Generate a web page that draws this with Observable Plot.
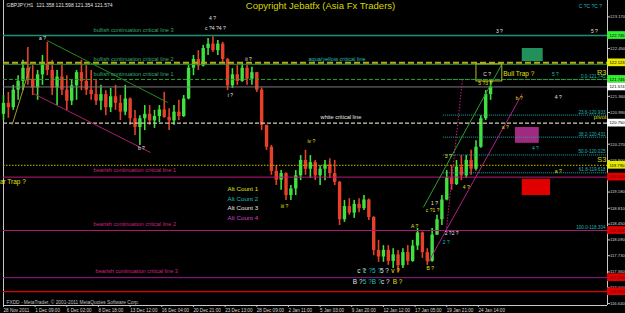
<!DOCTYPE html>
<html><head><meta charset="utf-8">
<script src="https://cdn.jsdelivr.net/npm/d3@7"></script>
<script src="https://cdn.jsdelivr.net/npm/@observablehq/plot@0.6"></script>
<style>html,body{margin:0;padding:0;background:#000;} svg{display:block}</style>
</head><body><div id="chart"></div>
<script>
// ---------- DATA ----------
const candleHigh = [121.38,121.45,121.61,121.83,122.18,122.47,122.06,121.95,122.29,122.59,
 122.18,121.95,122.06,121.83,121.72,121.95,122.18,122.06,121.95,121.72,
 121.61,121.49,121.54,121.61,121.38,121.61,121.32,121.04,120.92,121.15,
 121.15,121.04,121.15,121.45,121.08,121.15,121.27,121.38,122.06,122.29,
 122.40,122.52,122.68,122.72,122.63,122.59,122.22,121.99,122.06,122.13,
 122.06,122.02,121.90,121.55,120.70,120.24,119.78,119.67,119.62,119.33,
 119.67,120.01,120.13,120.01,119.90,119.78,119.90,119.94,119.90,119.42,
 118.99,119.03,118.99,119.03,119.10,119.02,118.62,118.08,117.96,117.96,
 117.89,117.85,117.89,117.96,118.08,118.35,118.27,117.89,118.35,118.65,
 119.10,119.67,119.78,119.90,120.01,120.01,120.13,120.35,120.92,121.49,
 121.72];
const candleLow = [120.81,120.86,121.04,121.27,121.49,121.61,121.38,121.27,121.61,121.83,
 121.38,121.15,121.38,121.04,121.15,121.27,121.49,121.38,121.27,121.15,
 121.04,120.92,120.99,121.04,120.81,120.92,120.70,120.47,120.24,120.58,
 120.70,120.63,120.76,120.86,120.58,120.70,120.81,120.88,121.28,121.83,
 121.95,122.03,122.29,122.36,122.29,122.13,121.49,121.54,121.61,121.68,
 121.61,121.61,121.45,120.58,120.13,119.56,119.33,119.22,118.99,118.99,
 119.10,119.44,119.56,119.49,119.44,119.33,119.44,119.49,119.33,118.42,
 118.49,118.65,118.58,118.71,118.76,118.53,117.73,117.58,117.58,117.51,
 117.44,117.35,117.44,117.51,117.58,117.85,117.67,117.51,117.58,118.19,
 118.42,118.98,119.22,119.33,119.44,119.49,119.56,119.66,120.18,120.81,
 121.27];
const candleOpen = [120.95,121.20,121.10,121.50,121.70,122.00,121.75,121.55,121.85,122.10,
 121.95,121.55,121.80,121.50,121.25,121.60,121.90,121.70,121.50,121.40,
 121.25,121.40,121.10,121.35,121.20,121.00,121.30,120.85,120.65,120.85,
 120.95,120.80,120.90,121.05,120.88,120.80,121.00,120.90,121.30,122.00,
 122.20,122.05,122.45,122.55,122.40,122.55,122.20,121.60,121.85,121.70,
 122.00,121.75,121.90,121.50,120.70,120.20,119.65,119.45,119.60,119.10,
 119.25,119.55,119.90,119.70,119.85,119.55,119.70,119.80,119.60,119.40,
 118.55,118.85,118.70,118.90,118.80,119.00,118.60,117.85,117.70,117.85,
 117.60,117.75,117.50,117.80,117.60,117.95,118.25,117.80,117.60,118.20,
 118.55,119.00,119.50,119.35,119.75,119.55,119.90,119.70,120.20,120.85,
 121.40];
const candleClose = [121.20,121.10,121.50,121.70,122.00,121.75,121.55,121.85,122.10,121.95,
 121.55,121.80,121.50,121.25,121.60,121.90,121.70,121.50,121.40,121.25,
 121.40,121.10,121.35,121.20,121.00,121.30,120.85,120.65,120.85,120.95,
 120.80,120.90,121.05,120.88,120.80,121.00,120.90,121.30,122.00,122.20,
 122.05,122.45,122.55,122.40,122.55,122.20,121.60,121.85,121.70,122.00,
 121.75,121.90,121.50,120.70,120.20,119.65,119.45,119.60,119.10,119.25,
 119.55,119.90,119.70,119.85,119.55,119.70,119.80,119.60,119.40,118.55,
 118.85,118.70,118.90,118.80,119.00,118.60,117.85,117.70,117.85,117.60,
 117.75,117.50,117.80,117.60,117.95,118.25,117.80,117.60,118.20,118.55,
 119.00,119.50,119.35,119.75,119.55,119.90,119.70,120.20,120.85,121.40,
 121.57];
const candleHours = 10; // H1 bars grouped into each drawn candle

const xTickBar = [0,65,130,195,260,325,390,455,520,585,650,715,780,845,910,975];
const xTickLabel = ["28 Nov 2011","1 Dec 09:00","6 Dec 02:00","8 Dec 18:00","13 Dec 12:00","16 Dec 04:00",
 "20 Dec 21:00","23 Dec 13:00","28 Dec 09:00","2 Jan 11:00","5 Jan 03:00","9 Jan 20:00",
 "12 Jan 12:00","17 Jan 05:00","19 Jan 21:00","24 Jan 14:00"];
const yTickValue = [123.170,122.450,121.360,120.990,120.270,119.900,119.180,118.810,118.450,118.090,117.730,117.360,117.000,116.640];

const levelName  = ["bull3","bull2","aquaYellow","bull1","bid","white","s3","bear1","bear2","bear3","red"];
const levelPrice = [122.745,122.090,122.123,121.745,121.574,120.750,119.790,119.520,118.304,117.230,116.910];

const fibRatio = ["0.0","23.6","38.2","50.0","61.8","100.0"];
const fibPrice = [121.745,120.933,120.431,120.025,119.618,118.304];
const fibStartBar = 903;

const zoneName = ["green","magenta","red"];
const zoneBar1 = [1065,1051,1065];
const zoneBar2 = [1108,1100,1123];
const zoneTop = [122.45,120.65,119.47];
const zoneBottom = [122.15,120.29,119.10];

const trapBar = [971,1024];
const trapPrice = [121.70,122.09];

const trendName = ["greenDown","magentaDown","oliveUp","greenUp","magentaUp","magentaDotted"];
const trendBar1 = [90,62,18,862,872,909];
const trendPrice1 = [122.63,121.42,120.72,118.83,117.58,118.30];
const trendBar2 = [337,302,55,1024,1065,942];
const trendPrice2 = [121.22,120.08,122.04,122.11,121.42,121.72];

const lineLabelText = ["bullish continuation critical line 3","bullish continuation critical line 2",
 "bullish continuation critical line 1","aqua/yellow critical line","white critical line",
 "bearish continuation critical line 1","bearish continuation critical line 2","bearish continuation critical line 3"];
const lineLabelKind = ["bull","bull","bull","aqua","white","bear","bear","bear"];
const lineLabelBar = [185,185,185,626,651,185,185,189];
const lineLabelPrice = [122.86,122.20,121.86,122.20,120.88,119.67,118.44,117.37];

const waveText = ["4 ?","c ?4 ?4 ?","a ?","ii ?","i ?","b ?","iv ?","iii ?","C ?","5 ?","4 ?","b ?","3 ?","5 ?",
 "C ?C ?C ?","a ?","4 ?","a ?","4 ?","3 ?","5 ?3 ?","1 ?","c ?1 ?","A ?","2 ?2 ?","2 ?","B ?"];
const waveCount = [3,3,3,3,3,3,1,1,3,2,3,1,3,3,2,1,2,1,1,1,1,3,1,1,3,2,1];
const waveBar = [429,435,80,503,466,283,632,577,993,1133,1139,1059,1018,1213,1205,1030,1092,1139,950,913,989,885,881,844,920,909,876];
const wavePrice = [123.13,122.91,122.68,122.20,121.38,120.17,120.33,118.85,121.86,121.86,121.33,121.31,122.84,122.84,
 123.41,120.65,120.17,119.65,119.28,119.99,121.65,118.92,118.76,118.40,118.24,118.03,117.44];

const lowWaveText = ["c ?","c ?5 ?","5 ?","v ?","B ?","5 ?","B ?","c ?","B ?"];
const lowWaveCount = [3,2,3,1,3,2,2,3,1];
const lowWaveBar = [735,757,782,805,727,747,766,784,809];
const lowWavePrice = [117.39,117.39,117.39,117.39,117.14,117.14,117.14,117.14,117.14];

const altCountText = ["Alt Count 1","Alt Count 2","Alt Count 3","Alt Count 4"];
const altCountBar = 460;
const altCountPrice = [119.26,119.03,118.81,118.58];

const bullTrapText = "Bull Trap ?", bullTrapBar = 1026, bullTrapPrice = 121.86;
const bearTrapText = "Bear Trap ?", bearTrapBar = 46, bearTrapPrice = 119.42;

const pivotText = ["R3","pivot","S3"];
const pivotPrice = [121.90,120.88,119.92];

const headerText = "GBPJPY,H1  121.358 121.598 121.354 121.574";
const titleText = "Copyright Jebatfx (Asia Fx Traders)";
const footerText = "FXDD - MetaTrader, © 2001-2011 MetaQuotes Software Corp.";

// ---------- STYLES ----------
const xMax = 1240, yLo = 116.596, yHi = 123.543;
const upColor = "#3fe03f", downColor = "#e6402a";
const countColor = {1:"#e0e010", 2:"#1cbcbc", 3:"#e6e6e6", 4:"#d040d0"};
const levelStyle = {
  bull3:{stroke:"#1e9078", width:1.4, box:"#33ee33"},
  bull2:{stroke:"#2a9a3a", width:1},
  aquaYellow:{stroke:"#b0b018", width:2, dash:"6,3", box:"#e8e800"},
  bull1:{stroke:"#2aa02a", width:1, dash:"4,2", box:"#33ee33"},
  bid:{stroke:"#7a7a7a", width:1, box:"#ffffff"},
  white:{stroke:"#d0d0b8", width:1.4, dash:"4,2", box:"#ffffff"},
  s3:{stroke:"#c4c400", width:1, dash:"1.5,1.5", box:"#e8e800"},
  bear1:{stroke:"#c0187c", width:1, box:"#e00000"},
  bear2:{stroke:"#b01878", width:1, box:"#e00000"},
  bear3:{stroke:"#9a1890", width:1, box:"#e00000"},
  red:{stroke:"#e00000", width:1.2, box:"#e00000"}
};
const zoneColor = {green:"#22905a", magenta:"#a02a80", red:"#e00000"};
const trendColor = {greenDown:"#1f8f1f", magentaDown:"#b0206e", oliveUp:"#a0a030", greenUp:"#2aa02a", magentaUp:"#b0208a", magentaDotted:"#c0208a"};
const labelColor = {bull:"#36a86e", aqua:"#1fbfbf", white:"#e8e8e8", bear:"#cc2288"};

// ---------- BUILD ----------
const candles = candleHigh.map((h,i)=>({bar:i*candleHours, high:h, low:candleLow[i], open:candleOpen[i], close:candleClose[i]}));
const levels = levelName.map((n,i)=>({name:n, price:levelPrice[i]}));
const fibs = fibRatio.map((r,i)=>({r, p:fibPrice[i]}));
const zones = zoneName.map((n,i)=>({name:n, b1:zoneBar1[i], b2:zoneBar2[i], top:zoneTop[i], bottom:zoneBottom[i]}));
const trends = trendName.map((n,i)=>({name:n, x1:trendBar1[i], y1:trendPrice1[i], x2:trendBar2[i], y2:trendPrice2[i]}));
const lineLabels = lineLabelText.map((t,i)=>({t, kind:lineLabelKind[i], bar:lineLabelBar[i], price:lineLabelPrice[i]}));
const waves = waveText.map((t,i)=>({t, count:waveCount[i], bar:waveBar[i], price:wavePrice[i]}));
const lowWaves = lowWaveText.map((t,i)=>({t, count:lowWaveCount[i], bar:lowWaveBar[i], price:lowWavePrice[i]}));
const alts = altCountText.map((t,i)=>({t, count:i+1, price:altCountPrice[i]}));
const pivots = pivotText.map((t,i)=>({t, price:pivotPrice[i]}));
const xLabelMap = new Map(xTickBar.map((b,i)=>[b, xTickLabel[i]]));
const boxes = levels.filter(l=>levelStyle[l.name].box);
const candleColor = d => d.close >= d.open ? upColor : downColor;
const boxH = 0.088;

const marks = [
  Plot.ruleX([0], {stroke:"#c8c8c8"}),
  Plot.ruleX([xMax], {stroke:"#c8c8c8"}),
  Plot.ruleY([yLo], {stroke:"#c8c8c8"}),
  Plot.rect(zones, {x1:"b1", x2:"b2", y1:"bottom", y2:"top", fill:d=>zoneColor[d.name]}),
  Plot.ruleX(candles, {x:"bar", y1:"low", y2:"high", stroke:candleColor, strokeWidth:1.6}),
  Plot.ruleX(candles, {x:"bar", y1:"open", y2:"close", stroke:candleColor, strokeWidth:3.4}),
  Plot.ruleY(fibs, {y:"p", x1:()=>fibStartBar, x2:()=>xMax, stroke:"#1ea6a6", strokeDasharray:"1,1"}),
  ...levels.map(l => { const s = levelStyle[l.name];
    return Plot.ruleY([l.price], {stroke:s.stroke, strokeWidth:s.width, strokeDasharray:s.dash || null}); }),
  Plot.link(trends.filter(t=>t.name!=="magentaDotted"), {x1:"x1", y1:"y1", x2:"x2", y2:"y2", stroke:d=>trendColor[d.name], strokeWidth:1}),
  Plot.link(trends.filter(t=>t.name==="magentaDotted"), {x1:"x1", y1:"y1", x2:"x2", y2:"y2", stroke:d=>trendColor[d.name], strokeWidth:1, strokeDasharray:"1.5,1.5"}),
  Plot.rect([0], {x1:()=>trapBar[0], x2:()=>trapBar[1], y1:()=>trapPrice[0], y2:()=>trapPrice[1], fill:"none", stroke:"#b4b42a"}),
  Plot.text(lineLabels, {x:"bar", y:"price", text:"t", fill:d=>labelColor[d.kind], textAnchor:"start", fontSize:5.6}),
  Plot.text(fibs, {x:()=>xMax, y:"p", text:d=>`${d.r}-${d.p.toFixed(3)}`, textAnchor:"end", dx:-2, dy:-3, fill:"#26b4b4", fontSize:4.6}),
  Plot.text(pivots.filter(p=>p.t!=="pivot"), {x:()=>xMax, y:"price", text:"t", textAnchor:"end", dx:-1, fill:"#d8d800", fontSize:7.5}),
  Plot.text(pivots.filter(p=>p.t==="pivot"), {x:()=>xMax, y:"price", text:"t", textAnchor:"end", dx:-1, fill:"#d8d800", fontSize:6}),
  Plot.text(waves, {x:"bar", y:"price", text:"t", fill:d=>countColor[d.count], fontSize:5}),
  Plot.text(lowWaves, {x:"bar", y:"price", text:"t", fill:d=>countColor[d.count], fontSize:6.5}),
  Plot.text(alts, {x:()=>altCountBar, y:"price", text:"t", fill:d=>countColor[d.count], textAnchor:"start", fontSize:6.2}),
  Plot.text([bullTrapText], {x:()=>bullTrapBar, y:()=>bullTrapPrice, text:d=>d, textAnchor:"start", fill:"#e0e010", fontSize:6.5}),
  Plot.text([bearTrapText], {x:()=>bearTrapBar, y:()=>bearTrapPrice, text:d=>d, textAnchor:"end", fill:"#e0e010", fontSize:6.5}),
  Plot.text([headerText], {frameAnchor:"top-left", dx:3, dy:3, lineAnchor:"top", textAnchor:"start", fill:"#e0e0e0", fontSize:5}),
  Plot.text([titleText], {frameAnchor:"top", dx:15, dy:2, lineAnchor:"top", fill:"#d8d800", fontSize:9.5}),
  Plot.text([footerText], {frameAnchor:"bottom-left", dx:3, dy:-2, lineAnchor:"bottom", textAnchor:"start", fill:"#c0c0c0", fontSize:4.8}),
  Plot.axisX(xTickBar, {tickFormat:d=>xLabelMap.get(d), textAnchor:"start", tickSize:2, tickPadding:1, fontSize:4.6, fill:"#d8d8d8", stroke:"#c8c8c8"}),
  Plot.axisY(yTickValue, {anchor:"right", tickFormat:d=>d.toFixed(3), tickSize:2, tickPadding:0.5, fontSize:4.2, fill:"#d8d8d8", stroke:"#c8c8c8"}),
  Plot.rect(boxes, {x1:()=>xMax, x2:()=>xMax+40, y1:d=>d.price-boxH, y2:d=>d.price+boxH, fill:d=>levelStyle[d.name].box}),
  Plot.text(boxes, {x:()=>xMax, y:"price", text:d=>d.price.toFixed(3), dx:2, textAnchor:"start", fill:d=>levelStyle[d.name].box==="#e00000"?"#5a0000":"#000", fontSize:4.2})
];

const chart = Plot.plot({
  width:625, height:313,
  marginLeft:3, marginRight:18, marginTop:0, marginBottom:8,
  x:{domain:[0,xMax]},
  y:{domain:[yLo,yHi]},
  color:{type:"identity"},
  style:{background:"#000", color:"#c8c8c8", fontFamily:"'Liberation Sans', Arial, sans-serif", overflow:"hidden"},
  marks
});
document.getElementById("chart").appendChild(chart);
</script></body></html>
